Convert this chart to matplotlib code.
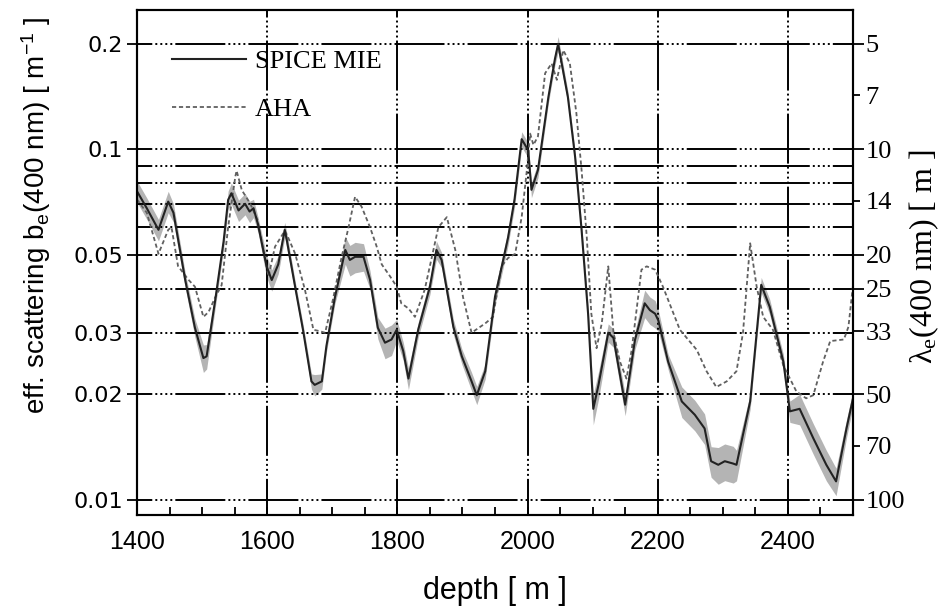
import numpy as np
import matplotlib.pyplot as plt
from matplotlib.ticker import NullLocator

plt.rcParams['lines.scale_dashes'] = False

# SPICE MIE fit: depth [m], effective scattering b_e(400 nm) [1/m], relative width of the band
spice_depth = [1400, 1415, 1433, 1448, 1456, 1474, 1489, 1502, 1507, 1520, 1533, 1540, 1545,
               1556, 1566, 1573, 1579, 1586, 1599, 1607, 1617, 1627, 1630, 1643, 1655, 1668,
               1673, 1684, 1691, 1704, 1720, 1727, 1735, 1748, 1758, 1770, 1781, 1791, 1799,
               1809, 1817, 1832, 1850, 1860, 1868, 1886, 1899, 1914, 1922, 1935, 1950, 1960,
               1970, 1980, 1991, 2001, 2006, 2016, 2032, 2042, 2047, 2062, 2073, 2083, 2093,
               2101, 2109, 2124, 2132, 2150, 2165, 2180, 2188, 2196, 2201, 2216, 2237, 2257,
               2272, 2282, 2293, 2303, 2316, 2321, 2342, 2359, 2372, 2393, 2403, 2418, 2439,
               2459, 2474, 2490, 2500]
spice_b = [0.076, 0.068, 0.059, 0.071, 0.066, 0.0425, 0.031, 0.0254, 0.0257, 0.037, 0.0546,
           0.0718, 0.075, 0.067, 0.070, 0.0665, 0.068, 0.061, 0.0465, 0.0424, 0.047, 0.059,
           0.0553, 0.0405, 0.0306, 0.0218, 0.0213, 0.0218, 0.0275, 0.0378, 0.0517, 0.0484,
           0.0494, 0.0494, 0.0425, 0.031, 0.0281, 0.0287, 0.0306, 0.0266, 0.0222, 0.0306,
           0.0406, 0.0517, 0.0484, 0.0312, 0.0257, 0.0218, 0.0199, 0.0233, 0.038, 0.046,
           0.056, 0.072, 0.107, 0.0995, 0.0767, 0.0874, 0.141, 0.181, 0.200, 0.141, 0.0955,
           0.059, 0.034, 0.0182, 0.0213, 0.030, 0.029, 0.0187, 0.0286, 0.0364, 0.0348, 0.034,
           0.0325, 0.0248, 0.0191, 0.0175, 0.016, 0.0129, 0.0126, 0.0129, 0.0127, 0.0126,
           0.0191, 0.0411, 0.0356, 0.0248, 0.0179, 0.0182, 0.015, 0.0126, 0.0113, 0.016, 0.0195]
spice_err = [0.07, 0.07, 0.07, 0.07, 0.06, 0.05, 0.06, 0.09, 0.08, 0.05, 0.05, 0.06, 0.07,
             0.07, 0.07, 0.07, 0.06, 0.05, 0.07, 0.07, 0.06, 0.05, 0.05, 0.04, 0.04, 0.05,
             0.07, 0.05, 0.04, 0.04, 0.09, 0.10, 0.10, 0.09, 0.06, 0.07, 0.10, 0.10, 0.07,
             0.06, 0.07, 0.05, 0.05, 0.06, 0.05, 0.05, 0.05, 0.06, 0.06, 0.05, 0.05, 0.05,
             0.05, 0.05, 0.05, 0.05, 0.05, 0.05, 0.04, 0.04, 0.05, 0.04, 0.04, 0.04, 0.06,
             0.10, 0.09, 0.06, 0.06, 0.07, 0.06, 0.09, 0.09, 0.09, 0.07, 0.05, 0.10, 0.10,
             0.10, 0.10, 0.12, 0.12, 0.12, 0.10, 0.05, 0.05, 0.05, 0.05, 0.07, 0.10, 0.10,
             0.10, 0.09, 0.06, 0.05]

# AHA model
aha_depth = [1400, 1415, 1433, 1448, 1453, 1463, 1479, 1489, 1502, 1510, 1520, 1530, 1540,
             1551, 1553, 1561, 1574, 1585, 1602, 1612, 1627, 1632, 1643, 1658, 1671, 1681,
             1689, 1701, 1714, 1725, 1735, 1745, 1758, 1768, 1776, 1789, 1799, 1806, 1817,
             1827, 1842, 1863, 1876, 1889, 1901, 1914, 1935, 1947, 1960, 1970, 1981, 1991,
             1999, 2004, 2009, 2016, 2027, 2037, 2045, 2055, 2065, 2075, 2083, 2091, 2098,
             2106, 2114, 2124, 2132, 2142, 2152, 2160, 2175, 2183, 2196, 2208, 2234, 2260,
             2275, 2290, 2306, 2321, 2331, 2342, 2352, 2362, 2377, 2393, 2413, 2428, 2439,
             2454, 2465, 2486, 2493, 2500]
aha_b = [0.072, 0.066, 0.0504, 0.059, 0.060, 0.0465, 0.0425, 0.0406, 0.0333, 0.0344, 0.0378,
         0.041, 0.060, 0.0836, 0.087, 0.0766, 0.070, 0.063, 0.0434, 0.0528, 0.0586, 0.0562,
         0.0504, 0.0398, 0.0306, 0.0303, 0.030, 0.0373, 0.049, 0.060, 0.0733, 0.0687, 0.060,
         0.053, 0.047, 0.0434, 0.0406, 0.0364, 0.0352, 0.0333, 0.0398, 0.060, 0.0641, 0.0517,
         0.0378, 0.030, 0.0319, 0.0333, 0.0464, 0.049, 0.0504, 0.0642, 0.0874, 0.111, 0.103,
         0.109, 0.165, 0.176, 0.158, 0.192, 0.176, 0.127, 0.0874, 0.0562, 0.034, 0.0271,
         0.0319, 0.0464, 0.030, 0.0248, 0.0222, 0.0268, 0.0454, 0.0464, 0.0454, 0.0406,
         0.0306, 0.0268, 0.0233, 0.021, 0.0218, 0.0233, 0.030, 0.054, 0.0406, 0.0333, 0.0306,
         0.0242, 0.0204, 0.0195, 0.0199, 0.0248, 0.0284, 0.0287, 0.0312, 0.041]

# axis ticks
b_ticks = [0.01, 0.02, 0.03, 0.05, 0.1, 0.2]
b_grid = [0.01, 0.02, 0.03, 0.04, 0.05, 0.06, 0.07, 0.08, 0.09, 0.1, 0.2]
lam_major = [5, 10, 20, 25, 33, 50, 100]
lam_minor = [7, 14, 70]
depth_ticks = [1400, 1600, 1800, 2000, 2200, 2400]
depth_grid = [1600, 1800, 2000, 2200, 2400]

grid_dash = [36, 2.2, 1.4, 2.2, 1.4, 2.2, 1.4, 2.2, 1.4, 2.2]

fig = plt.figure(figsize=(9.47, 6.16), dpi=100)
ax = fig.add_axes([137 / 947, 1 - 515 / 616, 716 / 947, 505 / 616])
ax.set_yscale('log')
ax.set_xlim(1400, 2500)
ax.set_ylim(0.00906, 0.25)

# dash-dot-dot grid
for v in b_grid:
    ax.axhline(v, color='black', lw=1.4, linestyle=(25, grid_dash), zorder=2)
for d in depth_grid:
    ax.axvline(d, color='black', lw=1.4, linestyle=(10, grid_dash), zorder=2)

spice_b = np.array(spice_b)
spice_err = np.array(spice_err)
ax.fill_between(spice_depth, spice_b * (1 - spice_err), spice_b * (1 + spice_err),
                color='#b4b4b4', lw=0, zorder=1)
ax.plot(aha_depth, aha_b, color='#606060', lw=1.3, dashes=(3, 2), zorder=3, label='AHA')
ax.plot(spice_depth, spice_b, color='#222222', lw=1.5, zorder=4, label='SPICE MIE')

handles, labels = ax.get_legend_handles_labels()
ax.legend(handles[::-1], labels[::-1], loc='upper left', bbox_to_anchor=(0.049, 0.922),
          frameon=False, borderpad=0, borderaxespad=0, handlelength=2.8,
          handletextpad=0.35, labelspacing=0.95,
          prop={'family': 'Liberation Serif', 'size': 19})

ax.set_yticks(b_ticks, [f'{v:g}' for v in b_ticks], fontsize=16, fontfamily='DejaVu Sans')
ax.yaxis.set_minor_locator(NullLocator())
ax.set_xticks(depth_ticks, [str(d) for d in depth_ticks], fontsize=18,
              fontfamily='Liberation Sans')
ax.set_xticks(np.arange(1400, 2501, 50), minor=True)
ax.tick_params(axis='y', which='major', direction='out', length=7, width=1.3, pad=3)
ax.tick_params(axis='x', which='both', direction='in', length=6, width=1.3, pad=11)

ax.set_xlabel('depth [ m ]', fontsize=22, fontfamily='Liberation Sans', labelpad=16)
ax.set_ylabel(r'eff. scattering $\mathregular{b_e}$(400 nm) [ $\mathregular{m^{-1}}$ ]',
              fontsize=20, fontfamily='Liberation Sans')
ax.yaxis.set_label_coords(-0.117, 0.594)

# right axis: attenuation length lambda_e = 1 / b_e
ax2 = ax.twinx()
ax2.set_yscale('log')
ax2.set_ylim(ax.get_ylim())
ax2.set_yticks([1 / l for l in lam_major], [str(l) for l in lam_major],
               fontsize=19, fontfamily='Liberation Serif')
ax2.set_yticks([1 / l for l in lam_minor], [str(l) for l in lam_minor], minor=True,
               fontsize=19, fontfamily='Liberation Serif')
ax2.tick_params(axis='y', which='major', direction='out', length=8, width=1.3, pad=1)
ax2.tick_params(axis='y', which='minor', direction='out', length=5, width=1.3, pad=4)
ax2.set_ylabel(r'$\mathregular{λ_e}$(400 nm) [ m ]', fontsize=23,
               fontfamily='Liberation Serif')
ax2.yaxis.set_label_coords(1.076, 0.511)

for a in (ax, ax2):
    for s in a.spines.values():
        s.set_linewidth(1.5)

fig.savefig('out.png', dpi=100)
